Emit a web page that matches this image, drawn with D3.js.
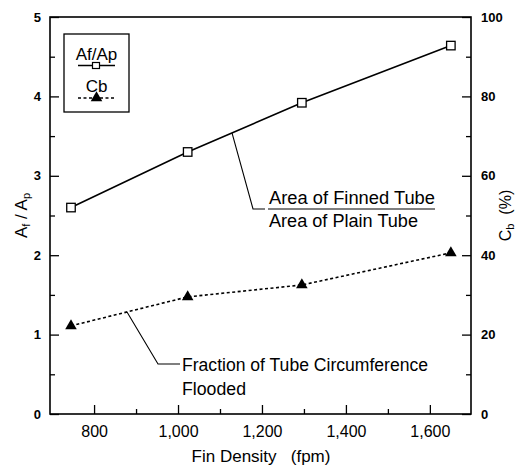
<!DOCTYPE html>
<html>
<head>
<meta charset="utf-8">
<script src="https://cdn.jsdelivr.net/npm/d3@7"></script>
<style>
  html, body { margin: 0; padding: 0; background: #fff; }
  svg { display: block; font-family: "Liberation Sans", Arial, Helvetica, sans-serif; }
</style>
</head>
<body>
<svg id="chart" width="524" height="468"></svg>
<script>
// Fin density (fins per metre) of the tested tubes
const finDensity = [745, 1023, 1295, 1650];
// Ratio of finned-tube area to plain-tube area
const areaRatio = [2.60, 3.30, 3.92, 4.64];
// Fraction of tube circumference flooded by retained condensate, %
const floodedPct = [22.2, 29.5, 32.5, 40.6];

const xTickValues = [800, 1000, 1200, 1400, 1600];
const xTickLabels = ["800", "1,000", "1,200", "1,400", "1,600"];
const xMinorValues = [900, 1100, 1300, 1500];
const leftTickValues = [0, 1, 2, 3, 4, 5];
const leftMinorValues = [0.5, 1.5, 2.5, 3.5, 4.5];
const rightTickValues = [0, 20, 40, 60, 80, 100];
const rightMinorValues = [10, 30, 50, 70, 90];

const svg = d3.select("#chart");
const plotL = 50, plotR = 471, plotT = 17, plotB = 414;

const x = d3.scaleLinear().domain([695, 1698]).range([plotL, plotR]);
const yL = d3.scaleLinear().domain([0, 5]).range([plotB, plotT]);
const yR = d3.scaleLinear().domain([0, 100]).range([plotB, plotT]);

// plot frame
svg.append("rect")
  .attr("x", plotL).attr("y", plotT)
  .attr("width", plotR - plotL).attr("height", plotB - plotT)
  .attr("fill", "none").attr("stroke", "#000").attr("stroke-width", 1.6);

function styleAxis(g) {
  g.select(".domain").remove();
  g.selectAll(".tick line").attr("stroke", "#000").attr("stroke-width", 1.3);
  g.selectAll(".tick text").attr("fill", "#000");
}

// bottom axis (ticks point into the plot)
svg.append("g").attr("transform", `translate(0,${plotB})`)
  .call(d3.axisBottom(x).tickValues(xTickValues)
    .tickFormat((d, i) => xTickLabels[i]).tickSizeInner(-9).tickSizeOuter(0).tickPadding(12))
  .call(styleAxis)
  .call(g => g.selectAll(".tick text").attr("font-size", 16));
svg.append("g").attr("transform", `translate(0,${plotB})`)
  .call(d3.axisBottom(x).tickValues(xMinorValues).tickFormat("").tickSizeInner(-5).tickSizeOuter(0))
  .call(styleAxis);

// left axis
svg.append("g").attr("transform", `translate(${plotL},0)`)
  .call(d3.axisLeft(yL).tickValues(leftTickValues).tickFormat(d3.format("d"))
    .tickSizeInner(-9).tickSizeOuter(0).tickPadding(9))
  .call(styleAxis)
  .call(g => g.selectAll(".tick text").attr("font-size", 13).attr("font-weight", "bold"));
svg.append("g").attr("transform", `translate(${plotL},0)`)
  .call(d3.axisLeft(yL).tickValues(leftMinorValues).tickFormat("").tickSizeInner(-5).tickSizeOuter(0))
  .call(styleAxis);

// right axis
svg.append("g").attr("transform", `translate(${plotR},0)`)
  .call(d3.axisRight(yR).tickValues(rightTickValues).tickFormat(d3.format("d"))
    .tickSizeInner(-9).tickSizeOuter(0).tickPadding(10))
  .call(styleAxis)
  .call(g => g.selectAll(".tick text").attr("font-size", 13).attr("font-weight", "bold"));
svg.append("g").attr("transform", `translate(${plotR},0)`)
  .call(d3.axisRight(yR).tickValues(rightMinorValues).tickFormat("").tickSizeInner(-5).tickSizeOuter(0))
  .call(styleAxis);

// axis titles
svg.append("text")
  .attr("x", 261).attr("y", 462)
  .attr("text-anchor", "middle").attr("font-size", 17)
  .attr("xml:space", "preserve")
  .text("Fin Density   (fpm)");

const leftTitle = svg.append("text")
  .attr("transform", `translate(27,${(plotT + plotB) / 2}) rotate(-90)`)
  .attr("text-anchor", "middle").attr("font-size", 17)
  .attr("xml:space", "preserve");
leftTitle.append("tspan").text("A");
leftTitle.append("tspan").attr("font-size", 11).attr("baseline-shift", "-30%").text("f");
leftTitle.append("tspan").text(" / A");
leftTitle.append("tspan").attr("font-size", 11).attr("baseline-shift", "-30%").text("p");

const rightTitle = svg.append("text")
  .attr("transform", `translate(511,${(plotT + plotB) / 2}) rotate(-90)`)
  .attr("text-anchor", "middle").attr("font-size", 16)
  .attr("xml:space", "preserve");
rightTitle.append("tspan").text("C");
rightTitle.append("tspan").attr("font-size", 11).attr("baseline-shift", "-30%").text("b");
rightTitle.append("tspan").text("  (%)");

// series lines
const areaPts = finDensity.map((f, i) => [x(f), yL(areaRatio[i])]);
const floodPts = finDensity.map((f, i) => [x(f), yR(floodedPct[i])]);
const line = d3.line();

svg.append("path").attr("d", line(areaPts))
  .attr("fill", "none").attr("stroke", "#000").attr("stroke-width", 1.6);
svg.append("path").attr("d", line(floodPts))
  .attr("fill", "none").attr("stroke", "#000").attr("stroke-width", 1.6)
  .attr("stroke-dasharray", "3,2.5");

// markers
const sq = 8.5;
svg.append("g").selectAll("rect").data(areaPts).join("rect")
  .attr("x", d => d[0] - sq / 2).attr("y", d => d[1] - sq / 2)
  .attr("width", sq).attr("height", sq)
  .attr("fill", "#fff").attr("stroke", "#000").attr("stroke-width", 1.3);

const tri = d3.symbol().type(d3.symbolTriangle).size(58);
svg.append("g").selectAll("path").data(floodPts).join("path")
  .attr("transform", d => `translate(${d[0]},${d[1]})`)
  .attr("d", tri()).attr("fill", "#000");

// legend
const lg = svg.append("g");
lg.append("rect").attr("x", 64).attr("y", 34).attr("width", 65).attr("height", 78)
  .attr("fill", "#fff").attr("stroke", "#000").attr("stroke-width", 1.3);
lg.append("text").attr("x", 96.5).attr("y", 60).attr("text-anchor", "middle")
  .attr("font-size", 17).text("Af/Ap");
lg.append("line").attr("x1", 78).attr("x2", 115).attr("y1", 65.5).attr("y2", 65.5)
  .attr("stroke", "#000").attr("stroke-width", 1.4);
lg.append("rect").attr("x", 92.5).attr("y", 62.5).attr("width", 7).attr("height", 6)
  .attr("fill", "#fff").attr("stroke", "#000").attr("stroke-width", 1.2);
lg.append("text").attr("x", 96.5).attr("y", 92).attr("text-anchor", "middle")
  .attr("font-size", 17).text("Cb");
lg.append("line").attr("x1", 78).attr("x2", 115).attr("y1", 98).attr("y2", 98)
  .attr("stroke", "#000").attr("stroke-width", 1.4).attr("stroke-dasharray", "3,2.5");
lg.append("path").attr("transform", "translate(96.5,98)").attr("d", tri()).attr("fill", "#000");

// annotation: area ratio curve
const ann = svg.append("g").attr("fill", "none").attr("stroke", "#000").attr("stroke-width", 1.1);
const aX = 232;
const aY = d3.scaleLinear().domain([finDensity[1], finDensity[2]])
  .range([areaPts[1][1], areaPts[2][1]])(x.invert(aX));
ann.append("polyline").attr("points", `${aX},${aY} 253,209 265,209`);
ann.append("line").attr("x1", 268).attr("x2", 435).attr("y1", 209).attr("y2", 209);
svg.append("text").attr("x", 269).attr("y", 204).attr("font-size", 17.5)
  .attr("textLength", 166).attr("lengthAdjust", "spacingAndGlyphs").text("Area of Finned Tube");
svg.append("text").attr("x", 269).attr("y", 227).attr("font-size", 17.5)
  .attr("textLength", 149).attr("lengthAdjust", "spacingAndGlyphs").text("Area of Plain Tube");

// annotation: flooded fraction curve
const bX = 127;
const bY = d3.scaleLinear().domain([finDensity[0], finDensity[1]])
  .range([floodPts[0][1], floodPts[1][1]])(x.invert(bX));
ann.append("polyline").attr("points", `${bX},${bY} 158,364 180,364`);
svg.append("text").attr("x", 182).attr("y", 371).attr("font-size", 17.5)
  .attr("textLength", 246).attr("lengthAdjust", "spacingAndGlyphs").text("Fraction of Tube Circumference");
svg.append("text").attr("x", 182).attr("y", 395).attr("font-size", 17.5)
  .attr("textLength", 64).attr("lengthAdjust", "spacingAndGlyphs").text("Flooded");
</script>
</body>
</html>
